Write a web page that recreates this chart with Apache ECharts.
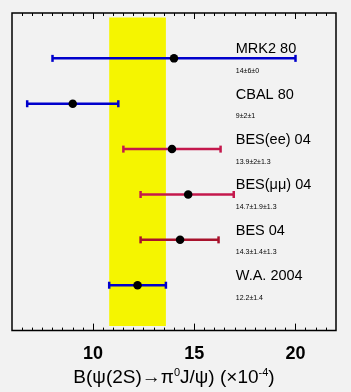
<!DOCTYPE html>
<html>
<head>
<meta charset="utf-8">
<script src="https://cdn.jsdelivr.net/npm/echarts@6/dist/echarts.min.js"></script>
<style>
  html, body { margin: 0; padding: 0; background: #f2f2f2; }
  #chart { width: 351px; height: 392px; }
</style>
</head>
<body>
<div id="chart"></div>
<script>
// measurements, top to bottom
const names = ['MRK2 80', 'CBAL 80', 'BES(ee) 04', 'BES(\u03bc\u03bc) 04', 'BES 04', 'W.A. 2004'];
const notes = ['14\u00b16\u00b10', '9\u00b12\u00b11', '13.9\u00b12\u00b11.3', '14.7\u00b11.9\u00b11.3', '14.3\u00b11.4\u00b11.3', '12.2\u00b11.4'];
const centers = [14, 9, 13.9, 14.7, 14.3, 12.2];
const lows = [8, 6.75, 11.5, 12.35, 12.35, 10.8];
const highs = [20, 11.25, 16.3, 16.95, 16.2, 13.6];
const colors = ['#0000cc', '#0000cc', '#c4184c', '#c4184c', '#a8122c', '#0000cc'];
// world average band
const bandLow = 10.8;
const bandHigh = 13.6;
// axis
const majorTicks = [10, 15, 20];
const minorTicks = [];
for (let v = 6.5; v < 22; v += 0.5) minorTicks.push(v);

const FONT = '"Liberation Sans", Arial, sans-serif';
const rows = names.map((n, i) => i + 1);

const chart = echarts.init(document.getElementById('chart'));

function xAx(pos, ticks, len, withLabel) {
    return {
        type: 'value', position: pos, min: 6, max: 22,
        axisLine: { show: false, onZero: false },
        splitLine: { show: false },
        axisTick: { show: true, inside: true, length: len, customValues: ticks,
            lineStyle: { color: '#000', width: 1 } },
        axisLabel: withLabel ? {
            show: true, customValues: majorTicks, margin: 14,
            fontFamily: FONT, fontSize: 18, fontWeight: 'bold', color: '#000'
        } : { show: false }
    };
}

const bottomAxis = xAx('bottom', majorTicks, 7, true);
bottomAxis.name = 'B(\u03c8(2S)\u2192\u03c0{sup|0}J/\u03c8) (\u00d710{sup|-4})';
bottomAxis.nameLocation = 'middle';
bottomAxis.nameGap = 36;
bottomAxis.nameTextStyle = {
    fontFamily: FONT, fontSize: 19, color: '#000',
    rich: { sup: { fontFamily: FONT, fontSize: 11, color: '#000', verticalAlign: 'top', padding: [0, 0, 9, 0] } }
};

const option = {
    backgroundColor: '#f2f2f2',
    animation: false,
    grid: { left: 12, right: 15, top: 13, bottom: 57, show: true, borderColor: '#000', borderWidth: 1.5, backgroundColor: 'transparent' },
    xAxis: [
        bottomAxis,
        xAx('bottom', minorTicks, 3, false),
        xAx('top', majorTicks, 6, false),
        xAx('top', minorTicks, 3, false)
    ],
    yAxis: { type: 'value', min: 0, max: 7, inverse: true, show: false },
    series: [
        {
            type: 'custom', z: 1,
            data: [[bandLow, bandHigh]],
            renderItem: function(params, api) {
                const a = api.coord([api.value(0), 0.1]);
                const b = api.coord([api.value(1), 6.9]);
                return { type: 'rect', shape: { x: a[0], y: a[1], width: b[0] - a[0], height: b[1] - a[1] },
                    style: { fill: '#f5f500' } };
            }
        },
        {
            type: 'custom', z: 2,
            data: rows.map((r, i) => [lows[i], highs[i], r, i]),
            renderItem: function(params, api) {
                const i = api.value(3);
                const a = api.coord([api.value(0), api.value(2)]);
                const b = api.coord([api.value(1), api.value(2)]);
                const st = { stroke: colors[i], lineWidth: 2.5 };
                return { type: 'group', children: [
                    { type: 'line', shape: { x1: a[0], y1: a[1], x2: b[0], y2: b[1] }, style: st },
                    { type: 'line', shape: { x1: a[0], y1: a[1] - 3.5, x2: a[0], y2: a[1] + 3.5 }, style: st },
                    { type: 'line', shape: { x1: b[0], y1: b[1] - 3.5, x2: b[0], y2: b[1] + 3.5 }, style: st }
                ] };
            }
        },
        {
            type: 'scatter', z: 3,
            symbol: 'circle', symbolSize: 8.5,
            itemStyle: { color: '#000', opacity: 1 },
            data: rows.map((r, i) => [centers[i], r])
        },
        {
            type: 'custom', z: 4,
            data: rows.map((r, i) => [17.05, r, i]),
            renderItem: function(params, api) {
                const i = api.value(2);
                const p = api.coord([api.value(0), api.value(1)]);
                return { type: 'group', children: [
                    { type: 'text', x: p[0], y: p[1] - 9,
                        style: { text: names[i], fontFamily: FONT, fontSize: 14.5, fill: '#000', textVerticalAlign: 'middle' } },
                    { type: 'text', x: p[0], y: p[1] + 12.5,
                        style: { text: notes[i], fontFamily: FONT, fontSize: 7, fill: '#000', textVerticalAlign: 'middle' } }
                ] };
            }
        }
    ]
};

chart.setOption(option);
</script>
</body>
</html>
